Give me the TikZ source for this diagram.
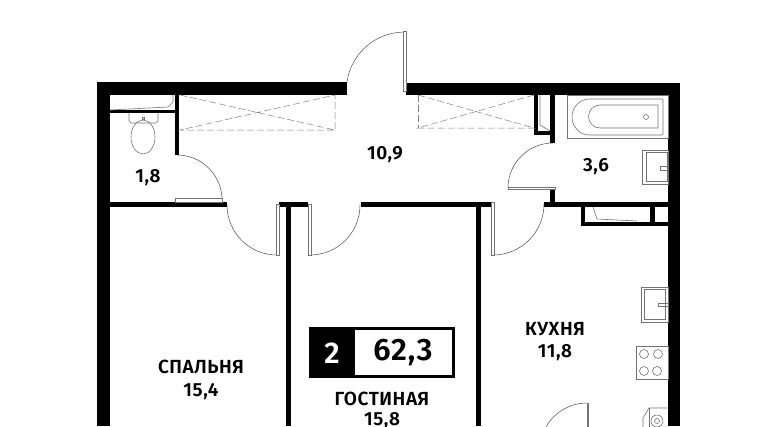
\documentclass[tikz,border=0pt]{standalone}
\usepackage{fontspec}
\setmainfont{Fira Sans}[UprightFont=* SemiBold,LetterSpace=3]

\tikzset{
    wall/.style={fill=black,draw=none},
    fixture/.style={draw=black!55,line width=0.6pt,fill=none},
    doorarc/.style={draw=black!70,line width=0.5pt},
    doorleaf/.style={draw=black!55,fill=white,line width=0.6pt},
    closet/.style={draw=black!50,line width=0.5pt,dash pattern=on 7pt off 3pt},
    roomlabel/.style={font=\fontsize{19}{19}\selectfont,text=black,inner sep=0pt}
}

\begin{document}
\begin{tikzpicture}[x=1pt,y=-1pt]
    \useasboundingbox (0,0) rectangle (776,426);
    \clip (0,0) rectangle (776,426);

    \fill[wall] (97,82) rectangle (347,95);
    \fill[wall] (406,83) rectangle (680,95);
    \fill[wall] (97,82) rectangle (110,426);
    \fill[wall] (668,83) rectangle (680,426);
    \fill[wall] (175,95) rectangle (179,155);
    \fill[wall] (110,110) rectangle (175,113);
    \fill[wall] (110,202) rectangle (227,207);
    \fill[wall] (279,202) rectangle (308,207);
    \fill[wall] (286,207) rectangle (291,426);
    \fill[wall] (361,202) rectangle (491,207);
    \fill[wall] (476,207) rectangle (481,426);
    \fill[wall] (544,202) rectangle (668,207);
    \fill[wall] (550,95) rectangle (555,143);
    \fill[wall] (550,188) rectangle (555,202);
    \fill[wall] (534,95) rectangle (538,135);
    \fill[wall] (534,131) rectangle (555,135);
    \fill[wall] (581,207) rectangle (585,226);
    \fill[wall] (581,222) rectangle (668,226);
    \fill[wall] (650,207) rectangle (654.5,222);

    \draw[closet] (180,95) -- (335,130) -- (180,130) -- (335,95) -- (335,130);
    \draw[closet] (418,95) -- (534,128) -- (418,128) -- (534,95);
    \draw[closet] (418,95) -- (418,128);

    \draw[doorarc] (347,82) arc (188:270:58);
    \draw[doorleaf] (403,31) rectangle (406,91);
    \draw[doorarc] (177,155) arc (270:360:45);
    \draw[doorleaf] (175,198) rectangle (222,202);
    \draw[doorarc] (227,205) arc (180:90:50);
    \draw[doorleaf] (276,204) rectangle (279,255);
    \draw[doorarc] (360,205) arc (0:90:50);
    \draw[doorleaf] (308,204) rectangle (311,255);
    \draw[doorarc] (544,204) arc (0:90:51);
    \draw[doorleaf] (491,202) rectangle (494,255);
    \draw[doorarc] (553,143) arc (270:180:45);
    \draw[doorleaf] (508,187) rectangle (555,189);
    \draw[doorarc] (587,403) arc (270:210:47);
    \draw[doorleaf] (587,403) rectangle (588.5,430);

    \draw[fixture] (110,110) -- (168,107) -- (173,102) -- (173,95);
    \draw[fixture] (129,113) -- (129,121) -- (131,123) -- (156,123) -- (158,121) -- (158,113);
    \draw[fixture] (143,137) ellipse (12 and 17);
    \draw[fixture] (142,117) rectangle (144,119);

    \draw[fixture] (567,95) rectangle (668,138);
    \draw[fixture,rounded corners=1pt] (663,99) -- (590,99) arc (270:90:18) -- (663,135) -- cycle;
    \draw[fixture] (658,105) -- (600,105) arc (270:90:11.5) -- (658,128) -- cycle;
    \draw[fixture] (646,117) circle (2.5);

    \draw[fixture] (642,150) rectangle (668,184);
    \draw[fixture] (646,152) rectangle (667,181);
    \draw[fixture] (660,166) rectangle (668,170);

    \draw[fixture] (540,95) -- (540,125) -- (550,131);
    \draw[fixture] (593,207) -- (597,219) -- (637,221);

    \draw[fixture] (641,287) rectangle (668,322);
    \draw[fixture] (644,289) rectangle (665,319);
    \draw[fixture] (658,303) rectangle (668,306);

    \draw[fixture] (636,346) rectangle (668,379);
    \foreach \bx/\by in {644/354,658/354,644/371,657/371}
        \draw[fixture] (\bx,\by) circle (4.5);

    \draw[fixture] (668,408) -- (649,408) -- (643,418) -- (643,430);
    \draw[fixture] (649,408) -- (649,430);
    \draw[fixture] (657,421) circle (6);
    \draw[fixture] (657,421) circle (2.5);

    \fill[black] (309,327) rectangle (455,378);
    \fill[white] (355,330) rectangle (452,375);
    \node[roomlabel,text=white,font=\fontsize{30}{30}\selectfont] (rooms) at (332,353) {2};
    \node[roomlabel,font=\fontsize{31}{31}\selectfont] (total) at (403,353) {62,3};

    \node[roomlabel] (hallarea) at (385,155) {10,9};
    \node[roomlabel] (wcarea) at (148,178) {1,8};
    \node[roomlabel] (batharea) at (596,167) {3,6};
    \node[roomlabel] (bedroom) at (201,367) {СПАЛЬНЯ};
    \node[roomlabel] (bedarea) at (201,392) {15,4};
    \node[roomlabel] (living) at (382,399) {ГОСТИНАЯ};
    \node[roomlabel] (livingarea) at (382,421) {15,8};
    \node[roomlabel] (kitchen) at (555,329) {КУХНЯ};
    \node[roomlabel] (kitchenarea) at (555,353) {11,8};
\end{tikzpicture}
\end{document}
